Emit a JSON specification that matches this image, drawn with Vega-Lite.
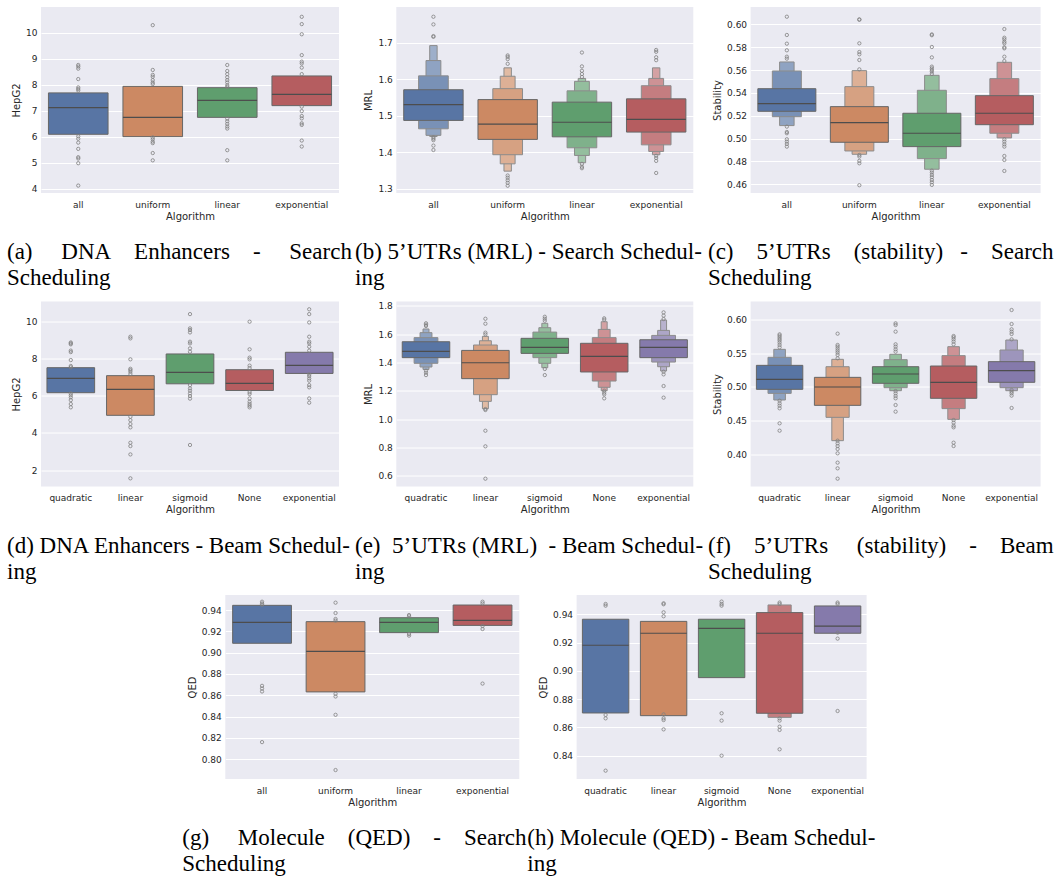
{
  "$schema": "https://vega.github.io/schema/vega-lite/v6.json",
  "padding": {"left": 7, "top": 7, "right": 5, "bottom": 5},
  "background": "#FFFFFF",
  "columns": 3,
  "bounds": "flush",
  "align": {"row": "each", "column": "each"},
  "spacing": {"row": 108.5, "column": 57.3},
  "datasets": {
    "a_box": [
      {"Algorithm": "all", "level": 0, "lo": 6.10, "hi": 7.69, "median": 7.12},
      {"Algorithm": "uniform", "level": 0, "lo": 6.01, "hi": 7.94, "median": 6.75},
      {"Algorithm": "linear", "level": 0, "lo": 6.75, "hi": 7.89, "median": 7.40},
      {"Algorithm": "exponential", "level": 0, "lo": 7.20, "hi": 8.34, "median": 7.63}
    ],
    "a_out": [
      {"Algorithm": "all", "value": 8.76}, {"Algorithm": "all", "value": 8.70}, {"Algorithm": "all", "value": 8.62}, {"Algorithm": "all", "value": 8.22}, {"Algorithm": "all", "value": 7.90}, {"Algorithm": "all", "value": 7.84}, {"Algorithm": "all", "value": 7.78}, {"Algorithm": "all", "value": 6.02}, {"Algorithm": "all", "value": 5.93}, {"Algorithm": "all", "value": 5.78}, {"Algorithm": "all", "value": 5.54}, {"Algorithm": "all", "value": 5.22}, {"Algorithm": "all", "value": 5.17}, {"Algorithm": "all", "value": 4.99}, {"Algorithm": "all", "value": 4.13},
      {"Algorithm": "uniform", "value": 10.29}, {"Algorithm": "uniform", "value": 8.57}, {"Algorithm": "uniform", "value": 8.38}, {"Algorithm": "uniform", "value": 8.31}, {"Algorithm": "uniform", "value": 8.18}, {"Algorithm": "uniform", "value": 8.09}, {"Algorithm": "uniform", "value": 8.03}, {"Algorithm": "uniform", "value": 5.98}, {"Algorithm": "uniform", "value": 5.91}, {"Algorithm": "uniform", "value": 5.82}, {"Algorithm": "uniform", "value": 5.76}, {"Algorithm": "uniform", "value": 5.38}, {"Algorithm": "uniform", "value": 5.10},
      {"Algorithm": "linear", "value": 8.76}, {"Algorithm": "linear", "value": 8.53}, {"Algorithm": "linear", "value": 8.41}, {"Algorithm": "linear", "value": 8.29}, {"Algorithm": "linear", "value": 8.18}, {"Algorithm": "linear", "value": 8.09}, {"Algorithm": "linear", "value": 7.98}, {"Algorithm": "linear", "value": 7.92}, {"Algorithm": "linear", "value": 6.70}, {"Algorithm": "linear", "value": 6.60}, {"Algorithm": "linear", "value": 6.50}, {"Algorithm": "linear", "value": 6.40}, {"Algorithm": "linear", "value": 6.32}, {"Algorithm": "linear", "value": 5.49}, {"Algorithm": "linear", "value": 5.10},
      {"Algorithm": "exponential", "value": 10.61}, {"Algorithm": "exponential", "value": 10.33}, {"Algorithm": "exponential", "value": 9.94}, {"Algorithm": "exponential", "value": 9.14}, {"Algorithm": "exponential", "value": 8.89}, {"Algorithm": "exponential", "value": 8.82}, {"Algorithm": "exponential", "value": 8.66}, {"Algorithm": "exponential", "value": 8.41}, {"Algorithm": "exponential", "value": 7.16}, {"Algorithm": "exponential", "value": 6.99}, {"Algorithm": "exponential", "value": 6.80}, {"Algorithm": "exponential", "value": 6.71}, {"Algorithm": "exponential", "value": 6.52}, {"Algorithm": "exponential", "value": 6.46}, {"Algorithm": "exponential", "value": 5.86}, {"Algorithm": "exponential", "value": 5.63}
    ],
    "b_box": [
      {"Algorithm": "all", "level": 0, "lo": 1.487, "hi": 1.571, "median": 1.530},
      {"Algorithm": "all", "level": 1, "lo": 1.464, "hi": 1.609},
      {"Algorithm": "all", "level": 2, "lo": 1.446, "hi": 1.651},
      {"Algorithm": "all", "level": 3, "lo": 1.443, "hi": 1.692},
      {"Algorithm": "uniform", "level": 0, "lo": 1.435, "hi": 1.544, "median": 1.477},
      {"Algorithm": "uniform", "level": 1, "lo": 1.393, "hi": 1.574},
      {"Algorithm": "uniform", "level": 2, "lo": 1.368, "hi": 1.608},
      {"Algorithm": "uniform", "level": 3, "lo": 1.348, "hi": 1.631},
      {"Algorithm": "linear", "level": 0, "lo": 1.442, "hi": 1.537, "median": 1.482},
      {"Algorithm": "linear", "level": 1, "lo": 1.412, "hi": 1.568},
      {"Algorithm": "linear", "level": 2, "lo": 1.391, "hi": 1.594},
      {"Algorithm": "linear", "level": 3, "lo": 1.371, "hi": 1.602},
      {"Algorithm": "exponential", "level": 0, "lo": 1.455, "hi": 1.546, "median": 1.490},
      {"Algorithm": "exponential", "level": 1, "lo": 1.420, "hi": 1.582},
      {"Algorithm": "exponential", "level": 2, "lo": 1.402, "hi": 1.602},
      {"Algorithm": "exponential", "level": 3, "lo": 1.393, "hi": 1.631}
    ],
    "b_out": [
      {"Algorithm": "all", "value": 1.771}, {"Algorithm": "all", "value": 1.750}, {"Algorithm": "all", "value": 1.718}, {"Algorithm": "all", "value": 1.716}, {"Algorithm": "all", "value": 1.441}, {"Algorithm": "all", "value": 1.437}, {"Algorithm": "all", "value": 1.433}, {"Algorithm": "all", "value": 1.418}, {"Algorithm": "all", "value": 1.406},
      {"Algorithm": "uniform", "value": 1.665}, {"Algorithm": "uniform", "value": 1.661}, {"Algorithm": "uniform", "value": 1.655}, {"Algorithm": "uniform", "value": 1.642}, {"Algorithm": "uniform", "value": 1.336}, {"Algorithm": "uniform", "value": 1.330}, {"Algorithm": "uniform", "value": 1.323}, {"Algorithm": "uniform", "value": 1.316}, {"Algorithm": "uniform", "value": 1.308},
      {"Algorithm": "linear", "value": 1.673}, {"Algorithm": "linear", "value": 1.635}, {"Algorithm": "linear", "value": 1.623}, {"Algorithm": "linear", "value": 1.614}, {"Algorithm": "linear", "value": 1.606}, {"Algorithm": "linear", "value": 1.368}, {"Algorithm": "linear", "value": 1.360}, {"Algorithm": "linear", "value": 1.356},
      {"Algorithm": "exponential", "value": 1.680}, {"Algorithm": "exponential", "value": 1.675}, {"Algorithm": "exponential", "value": 1.660}, {"Algorithm": "exponential", "value": 1.652}, {"Algorithm": "exponential", "value": 1.390}, {"Algorithm": "exponential", "value": 1.384}, {"Algorithm": "exponential", "value": 1.376}, {"Algorithm": "exponential", "value": 1.343}
    ],
    "c_box": [
      {"Algorithm": "all", "level": 0, "lo": 0.5239, "hi": 0.5437, "median": 0.5306},
      {"Algorithm": "all", "level": 1, "lo": 0.5192, "hi": 0.5592},
      {"Algorithm": "all", "level": 2, "lo": 0.5114, "hi": 0.5671},
      {"Algorithm": "uniform", "level": 0, "lo": 0.4968, "hi": 0.5280, "median": 0.5140},
      {"Algorithm": "uniform", "level": 1, "lo": 0.4892, "hi": 0.5455},
      {"Algorithm": "uniform", "level": 2, "lo": 0.4863, "hi": 0.5595},
      {"Algorithm": "linear", "level": 0, "lo": 0.4930, "hi": 0.5222, "median": 0.5047},
      {"Algorithm": "linear", "level": 1, "lo": 0.4825, "hi": 0.5423},
      {"Algorithm": "linear", "level": 2, "lo": 0.4732, "hi": 0.5554},
      {"Algorithm": "exponential", "level": 0, "lo": 0.5122, "hi": 0.5376, "median": 0.5222},
      {"Algorithm": "exponential", "level": 1, "lo": 0.5047, "hi": 0.5525},
      {"Algorithm": "exponential", "level": 2, "lo": 0.5006, "hi": 0.5668}
    ],
    "c_out": [
      {"Algorithm": "all", "value": 0.6067}, {"Algorithm": "all", "value": 0.5907}, {"Algorithm": "all", "value": 0.5831}, {"Algorithm": "all", "value": 0.5773}, {"Algorithm": "all", "value": 0.5717}, {"Algorithm": "all", "value": 0.5700}, {"Algorithm": "all", "value": 0.5105}, {"Algorithm": "all", "value": 0.5058}, {"Algorithm": "all", "value": 0.5047}, {"Algorithm": "all", "value": 0.4994}, {"Algorithm": "all", "value": 0.4974}, {"Algorithm": "all", "value": 0.4953}, {"Algorithm": "all", "value": 0.4930},
      {"Algorithm": "uniform", "value": 0.6044}, {"Algorithm": "uniform", "value": 0.6040}, {"Algorithm": "uniform", "value": 0.5834}, {"Algorithm": "uniform", "value": 0.5758}, {"Algorithm": "uniform", "value": 0.5738}, {"Algorithm": "uniform", "value": 0.5688}, {"Algorithm": "uniform", "value": 0.5606}, {"Algorithm": "uniform", "value": 0.4857}, {"Algorithm": "uniform", "value": 0.4843}, {"Algorithm": "uniform", "value": 0.4805}, {"Algorithm": "uniform", "value": 0.4784}, {"Algorithm": "uniform", "value": 0.4592},
      {"Algorithm": "linear", "value": 0.5912}, {"Algorithm": "linear", "value": 0.5905}, {"Algorithm": "linear", "value": 0.5802}, {"Algorithm": "linear", "value": 0.5711}, {"Algorithm": "linear", "value": 0.5630}, {"Algorithm": "linear", "value": 0.5615}, {"Algorithm": "linear", "value": 0.5600}, {"Algorithm": "linear", "value": 0.5586}, {"Algorithm": "linear", "value": 0.5566}, {"Algorithm": "linear", "value": 0.4720}, {"Algorithm": "linear", "value": 0.4703}, {"Algorithm": "linear", "value": 0.4682}, {"Algorithm": "linear", "value": 0.4662}, {"Algorithm": "linear", "value": 0.4638}, {"Algorithm": "linear", "value": 0.4618}, {"Algorithm": "linear", "value": 0.4595},
      {"Algorithm": "exponential", "value": 0.5959}, {"Algorithm": "exponential", "value": 0.5883}, {"Algorithm": "exponential", "value": 0.5869}, {"Algorithm": "exponential", "value": 0.5848}, {"Algorithm": "exponential", "value": 0.5834}, {"Algorithm": "exponential", "value": 0.5799}, {"Algorithm": "exponential", "value": 0.5790}, {"Algorithm": "exponential", "value": 0.5717}, {"Algorithm": "exponential", "value": 0.5679}, {"Algorithm": "exponential", "value": 0.4994}, {"Algorithm": "exponential", "value": 0.4974}, {"Algorithm": "exponential", "value": 0.4950}, {"Algorithm": "exponential", "value": 0.4930}, {"Algorithm": "exponential", "value": 0.4848}, {"Algorithm": "exponential", "value": 0.4813}, {"Algorithm": "exponential", "value": 0.4717}
    ],
    "d_box": [
      {"Algorithm": "quadratic", "level": 0, "lo": 6.17, "hi": 7.52, "median": 6.94},
      {"Algorithm": "linear", "level": 0, "lo": 4.95, "hi": 7.09, "median": 6.35},
      {"Algorithm": "sigmoid", "level": 0, "lo": 6.65, "hi": 8.26, "median": 7.27},
      {"Algorithm": "None", "level": 0, "lo": 6.29, "hi": 7.41, "median": 6.67},
      {"Algorithm": "exponential", "level": 0, "lo": 7.21, "hi": 8.35, "median": 7.64}
    ],
    "d_out": [
      {"Algorithm": "quadratic", "value": 8.88}, {"Algorithm": "quadratic", "value": 8.83}, {"Algorithm": "quadratic", "value": 8.78}, {"Algorithm": "quadratic", "value": 8.44}, {"Algorithm": "quadratic", "value": 8.36}, {"Algorithm": "quadratic", "value": 7.93}, {"Algorithm": "quadratic", "value": 7.61}, {"Algorithm": "quadratic", "value": 7.54}, {"Algorithm": "quadratic", "value": 6.13}, {"Algorithm": "quadratic", "value": 6.03}, {"Algorithm": "quadratic", "value": 5.92}, {"Algorithm": "quadratic", "value": 5.77}, {"Algorithm": "quadratic", "value": 5.56}, {"Algorithm": "quadratic", "value": 5.38},
      {"Algorithm": "linear", "value": 9.19}, {"Algorithm": "linear", "value": 9.10}, {"Algorithm": "linear", "value": 7.97}, {"Algorithm": "linear", "value": 7.46}, {"Algorithm": "linear", "value": 7.39}, {"Algorithm": "linear", "value": 7.30}, {"Algorithm": "linear", "value": 7.18}, {"Algorithm": "linear", "value": 4.87}, {"Algorithm": "linear", "value": 4.69}, {"Algorithm": "linear", "value": 4.48}, {"Algorithm": "linear", "value": 4.30}, {"Algorithm": "linear", "value": 3.47}, {"Algorithm": "linear", "value": 3.29}, {"Algorithm": "linear", "value": 2.84}, {"Algorithm": "linear", "value": 1.55},
      {"Algorithm": "sigmoid", "value": 10.41}, {"Algorithm": "sigmoid", "value": 9.64}, {"Algorithm": "sigmoid", "value": 9.55}, {"Algorithm": "sigmoid", "value": 9.42}, {"Algorithm": "sigmoid", "value": 8.92}, {"Algorithm": "sigmoid", "value": 8.83}, {"Algorithm": "sigmoid", "value": 8.56}, {"Algorithm": "sigmoid", "value": 8.38}, {"Algorithm": "sigmoid", "value": 6.58}, {"Algorithm": "sigmoid", "value": 6.40}, {"Algorithm": "sigmoid", "value": 6.28}, {"Algorithm": "sigmoid", "value": 6.13}, {"Algorithm": "sigmoid", "value": 5.99}, {"Algorithm": "sigmoid", "value": 5.85}, {"Algorithm": "sigmoid", "value": 3.35},
      {"Algorithm": "None", "value": 10.0}, {"Algorithm": "None", "value": 8.51}, {"Algorithm": "None", "value": 8.06}, {"Algorithm": "None", "value": 7.97}, {"Algorithm": "None", "value": 7.63}, {"Algorithm": "None", "value": 7.50}, {"Algorithm": "None", "value": 6.20}, {"Algorithm": "None", "value": 6.10}, {"Algorithm": "None", "value": 5.86}, {"Algorithm": "None", "value": 5.68}, {"Algorithm": "None", "value": 5.56}, {"Algorithm": "None", "value": 5.47}, {"Algorithm": "None", "value": 5.38},
      {"Algorithm": "exponential", "value": 10.67}, {"Algorithm": "exponential", "value": 10.41}, {"Algorithm": "exponential", "value": 9.96}, {"Algorithm": "exponential", "value": 9.19}, {"Algorithm": "exponential", "value": 8.92}, {"Algorithm": "exponential", "value": 8.83}, {"Algorithm": "exponential", "value": 8.65}, {"Algorithm": "exponential", "value": 8.44}, {"Algorithm": "exponential", "value": 7.16}, {"Algorithm": "exponential", "value": 7.07}, {"Algorithm": "exponential", "value": 6.94}, {"Algorithm": "exponential", "value": 6.82}, {"Algorithm": "exponential", "value": 6.58}, {"Algorithm": "exponential", "value": 6.46}, {"Algorithm": "exponential", "value": 5.86}, {"Algorithm": "exponential", "value": 5.63}
    ],
    "e_box": [
      {"Algorithm": "quadratic", "level": 0, "lo": 1.434, "hi": 1.546, "median": 1.478},
      {"Algorithm": "quadratic", "level": 1, "lo": 1.394, "hi": 1.575},
      {"Algorithm": "quadratic", "level": 2, "lo": 1.368, "hi": 1.610},
      {"Algorithm": "quadratic", "level": 3, "lo": 1.351, "hi": 1.636},
      {"Algorithm": "linear", "level": 0, "lo": 1.286, "hi": 1.485, "median": 1.398},
      {"Algorithm": "linear", "level": 1, "lo": 1.173, "hi": 1.523},
      {"Algorithm": "linear", "level": 2, "lo": 1.126, "hi": 1.553},
      {"Algorithm": "linear", "level": 3, "lo": 1.074, "hi": 1.584},
      {"Algorithm": "sigmoid", "level": 0, "lo": 1.464, "hi": 1.570, "median": 1.506},
      {"Algorithm": "sigmoid", "level": 1, "lo": 1.434, "hi": 1.614},
      {"Algorithm": "sigmoid", "level": 2, "lo": 1.394, "hi": 1.645},
      {"Algorithm": "sigmoid", "level": 3, "lo": 1.363, "hi": 1.676},
      {"Algorithm": "None", "level": 0, "lo": 1.333, "hi": 1.535, "median": 1.443},
      {"Algorithm": "None", "level": 1, "lo": 1.269, "hi": 1.575},
      {"Algorithm": "None", "level": 2, "lo": 1.225, "hi": 1.633},
      {"Algorithm": "None", "level": 3, "lo": 1.201, "hi": 1.687},
      {"Algorithm": "exponential", "level": 0, "lo": 1.434, "hi": 1.560, "median": 1.506},
      {"Algorithm": "exponential", "level": 1, "lo": 1.403, "hi": 1.591},
      {"Algorithm": "exponential", "level": 2, "lo": 1.370, "hi": 1.626},
      {"Algorithm": "exponential", "level": 3, "lo": 1.340, "hi": 1.699}
    ],
    "e_out": [
      {"Algorithm": "quadratic", "value": 1.676}, {"Algorithm": "quadratic", "value": 1.666}, {"Algorithm": "quadratic", "value": 1.657}, {"Algorithm": "quadratic", "value": 1.342}, {"Algorithm": "quadratic", "value": 1.328}, {"Algorithm": "quadratic", "value": 1.311},
      {"Algorithm": "linear", "value": 1.708}, {"Algorithm": "linear", "value": 1.673}, {"Algorithm": "linear", "value": 1.610}, {"Algorithm": "linear", "value": 1.598}, {"Algorithm": "linear", "value": 1.072}, {"Algorithm": "linear", "value": 1.065}, {"Algorithm": "linear", "value": 0.919}, {"Algorithm": "linear", "value": 0.809}, {"Algorithm": "linear", "value": 0.581},
      {"Algorithm": "sigmoid", "value": 1.722}, {"Algorithm": "sigmoid", "value": 1.708}, {"Algorithm": "sigmoid", "value": 1.694}, {"Algorithm": "sigmoid", "value": 1.354}, {"Algorithm": "sigmoid", "value": 1.311},
      {"Algorithm": "None", "value": 1.711}, {"Algorithm": "None", "value": 1.701}, {"Algorithm": "None", "value": 1.201}, {"Algorithm": "None", "value": 1.187}, {"Algorithm": "None", "value": 1.175}, {"Algorithm": "None", "value": 1.147},
      {"Algorithm": "exponential", "value": 1.753}, {"Algorithm": "exponential", "value": 1.730}, {"Algorithm": "exponential", "value": 1.706}, {"Algorithm": "exponential", "value": 1.335}, {"Algorithm": "exponential", "value": 1.316}, {"Algorithm": "exponential", "value": 1.234}, {"Algorithm": "exponential", "value": 1.152}
    ],
    "f_box": [
      {"Algorithm": "quadratic", "level": 0, "lo": 0.4965, "hi": 0.5323, "median": 0.5114},
      {"Algorithm": "quadratic", "level": 1, "lo": 0.4905, "hi": 0.5443},
      {"Algorithm": "quadratic", "level": 2, "lo": 0.4806, "hi": 0.5562},
      {"Algorithm": "linear", "level": 0, "lo": 0.4726, "hi": 0.5144, "median": 0.5000},
      {"Algorithm": "linear", "level": 1, "lo": 0.4547, "hi": 0.5303},
      {"Algorithm": "linear", "level": 2, "lo": 0.4199, "hi": 0.5413},
      {"Algorithm": "sigmoid", "level": 0, "lo": 0.5055, "hi": 0.5303, "median": 0.5194},
      {"Algorithm": "sigmoid", "level": 1, "lo": 0.4990, "hi": 0.5408},
      {"Algorithm": "sigmoid", "level": 2, "lo": 0.4945, "hi": 0.5488},
      {"Algorithm": "None", "level": 0, "lo": 0.4831, "hi": 0.5313, "median": 0.5070},
      {"Algorithm": "None", "level": 1, "lo": 0.4677, "hi": 0.5468},
      {"Algorithm": "None", "level": 2, "lo": 0.4517, "hi": 0.5602},
      {"Algorithm": "exponential", "level": 0, "lo": 0.5070, "hi": 0.5378, "median": 0.5244},
      {"Algorithm": "exponential", "level": 1, "lo": 0.4990, "hi": 0.5552},
      {"Algorithm": "exponential", "level": 2, "lo": 0.4945, "hi": 0.5701}
    ],
    "f_out": [
      {"Algorithm": "quadratic", "value": 0.5786}, {"Algorithm": "quadratic", "value": 0.5766}, {"Algorithm": "quadratic", "value": 0.5741}, {"Algorithm": "quadratic", "value": 0.5716}, {"Algorithm": "quadratic", "value": 0.5692}, {"Algorithm": "quadratic", "value": 0.5662}, {"Algorithm": "quadratic", "value": 0.5627}, {"Algorithm": "quadratic", "value": 0.5592}, {"Algorithm": "quadratic", "value": 0.4796}, {"Algorithm": "quadratic", "value": 0.4756}, {"Algorithm": "quadratic", "value": 0.4721}, {"Algorithm": "quadratic", "value": 0.4682}, {"Algorithm": "quadratic", "value": 0.4458}, {"Algorithm": "quadratic", "value": 0.4348},
      {"Algorithm": "linear", "value": 0.5796}, {"Algorithm": "linear", "value": 0.5627}, {"Algorithm": "linear", "value": 0.5602}, {"Algorithm": "linear", "value": 0.5572}, {"Algorithm": "linear", "value": 0.5542}, {"Algorithm": "linear", "value": 0.5512}, {"Algorithm": "linear", "value": 0.5478}, {"Algorithm": "linear", "value": 0.5428}, {"Algorithm": "linear", "value": 0.4199}, {"Algorithm": "linear", "value": 0.4159}, {"Algorithm": "linear", "value": 0.4119}, {"Algorithm": "linear", "value": 0.4075}, {"Algorithm": "linear", "value": 0.4010}, {"Algorithm": "linear", "value": 0.3871}, {"Algorithm": "linear", "value": 0.3786}, {"Algorithm": "linear", "value": 0.3632},
      {"Algorithm": "sigmoid", "value": 0.5950}, {"Algorithm": "sigmoid", "value": 0.5925}, {"Algorithm": "sigmoid", "value": 0.5826}, {"Algorithm": "sigmoid", "value": 0.5637}, {"Algorithm": "sigmoid", "value": 0.5602}, {"Algorithm": "sigmoid", "value": 0.5562}, {"Algorithm": "sigmoid", "value": 0.5527}, {"Algorithm": "sigmoid", "value": 0.4940}, {"Algorithm": "sigmoid", "value": 0.4905}, {"Algorithm": "sigmoid", "value": 0.4866}, {"Algorithm": "sigmoid", "value": 0.4831}, {"Algorithm": "sigmoid", "value": 0.4731}, {"Algorithm": "sigmoid", "value": 0.4632},
      {"Algorithm": "None", "value": 0.5761}, {"Algorithm": "None", "value": 0.5741}, {"Algorithm": "None", "value": 0.5711}, {"Algorithm": "None", "value": 0.5677}, {"Algorithm": "None", "value": 0.5637}, {"Algorithm": "None", "value": 0.4507}, {"Algorithm": "None", "value": 0.4468}, {"Algorithm": "None", "value": 0.4423}, {"Algorithm": "None", "value": 0.4398}, {"Algorithm": "None", "value": 0.4169}, {"Algorithm": "None", "value": 0.4119},
      {"Algorithm": "exponential", "value": 0.6149}, {"Algorithm": "exponential", "value": 0.5940}, {"Algorithm": "exponential", "value": 0.5861}, {"Algorithm": "exponential", "value": 0.5826}, {"Algorithm": "exponential", "value": 0.5791}, {"Algorithm": "exponential", "value": 0.5711}, {"Algorithm": "exponential", "value": 0.4955}, {"Algorithm": "exponential", "value": 0.4930}, {"Algorithm": "exponential", "value": 0.4905}, {"Algorithm": "exponential", "value": 0.4871}, {"Algorithm": "exponential", "value": 0.4687}
    ],
    "g_box": [
      {"Algorithm": "all", "level": 0, "lo": 0.9088, "hi": 0.9444, "median": 0.9285},
      {"Algorithm": "uniform", "level": 0, "lo": 0.8632, "hi": 0.9291, "median": 0.9013},
      {"Algorithm": "linear", "level": 0, "lo": 0.9188, "hi": 0.9328, "median": 0.9285},
      {"Algorithm": "exponential", "level": 0, "lo": 0.9256, "hi": 0.9447, "median": 0.9303}
    ],
    "g_out": [
      {"Algorithm": "all", "value": 0.9478}, {"Algorithm": "all", "value": 0.9462}, {"Algorithm": "all", "value": 0.9450}, {"Algorithm": "all", "value": 0.8689}, {"Algorithm": "all", "value": 0.8664}, {"Algorithm": "all", "value": 0.8636}, {"Algorithm": "all", "value": 0.8161},
      {"Algorithm": "uniform", "value": 0.9469}, {"Algorithm": "uniform", "value": 0.9372}, {"Algorithm": "uniform", "value": 0.9316}, {"Algorithm": "uniform", "value": 0.9300}, {"Algorithm": "uniform", "value": 0.8614}, {"Algorithm": "uniform", "value": 0.8589}, {"Algorithm": "uniform", "value": 0.8417}, {"Algorithm": "uniform", "value": 0.7899},
      {"Algorithm": "linear", "value": 0.9353}, {"Algorithm": "linear", "value": 0.9341}, {"Algorithm": "linear", "value": 0.9175}, {"Algorithm": "linear", "value": 0.9160},
      {"Algorithm": "exponential", "value": 0.9478}, {"Algorithm": "exponential", "value": 0.9462}, {"Algorithm": "exponential", "value": 0.9250}, {"Algorithm": "exponential", "value": 0.9222}, {"Algorithm": "exponential", "value": 0.8710}
    ],
    "h_box": [
      {"Algorithm": "quadratic", "level": 0, "lo": 0.8702, "hi": 0.9365, "median": 0.9181},
      {"Algorithm": "linear", "level": 0, "lo": 0.8683, "hi": 0.9350, "median": 0.9266},
      {"Algorithm": "sigmoid", "level": 0, "lo": 0.8952, "hi": 0.9365, "median": 0.9301},
      {"Algorithm": "None", "level": 0, "lo": 0.8700, "hi": 0.9412, "median": 0.9266},
      {"Algorithm": "None", "level": 1, "lo": 0.8671, "hi": 0.9466},
      {"Algorithm": "exponential", "level": 0, "lo": 0.9266, "hi": 0.9459, "median": 0.9317}
    ],
    "h_out": [
      {"Algorithm": "quadratic", "value": 0.9473}, {"Algorithm": "quadratic", "value": 0.9461}, {"Algorithm": "quadratic", "value": 0.8688}, {"Algorithm": "quadratic", "value": 0.8664}, {"Algorithm": "quadratic", "value": 0.8294},
      {"Algorithm": "linear", "value": 0.9478}, {"Algorithm": "linear", "value": 0.9471}, {"Algorithm": "linear", "value": 0.9414}, {"Algorithm": "linear", "value": 0.9386}, {"Algorithm": "linear", "value": 0.8692}, {"Algorithm": "linear", "value": 0.8664}, {"Algorithm": "linear", "value": 0.8652}, {"Algorithm": "linear", "value": 0.8586},
      {"Algorithm": "sigmoid", "value": 0.9490}, {"Algorithm": "sigmoid", "value": 0.9473}, {"Algorithm": "sigmoid", "value": 0.9461}, {"Algorithm": "sigmoid", "value": 0.8700}, {"Algorithm": "sigmoid", "value": 0.8648}, {"Algorithm": "sigmoid", "value": 0.8400},
      {"Algorithm": "None", "value": 0.9483}, {"Algorithm": "None", "value": 0.9473}, {"Algorithm": "None", "value": 0.8664}, {"Algorithm": "None", "value": 0.8648}, {"Algorithm": "None", "value": 0.8605}, {"Algorithm": "None", "value": 0.8582}, {"Algorithm": "None", "value": 0.8445},
      {"Algorithm": "exponential", "value": 0.9483}, {"Algorithm": "exponential", "value": 0.9473}, {"Algorithm": "exponential", "value": 0.9270}, {"Algorithm": "exponential", "value": 0.9228}, {"Algorithm": "exponential", "value": 0.8716}
    ]
  },
  "concat": [
    {
      "width": 298, "height": 186,
      "title": {"text": ["(a)\u00a0\u00a0\u00a0\u00a0\u00a0DNA\u00a0\u00a0\u00a0\u00a0Enhancers\u00a0\u00a0\u00a0\u00a0-\u00a0\u00a0\u00a0\u00a0\u00a0Search", "Scheduling"], "dx": -34},
      "encoding": {"x": {"field": "Algorithm", "type": "nominal", "title": "Algorithm", "scale": {"domain": ["all", "uniform", "linear", "exponential"], "paddingInner": 0, "paddingOuter": 0}}},
      "layer": [
        {"data": {"name": "a_box"}, "transform": [{"filter": "datum.level == 0"}],
         "mark": {"type": "bar", "width": {"band": 0.8}, "stroke": "#666666", "strokeWidth": 1},
         "encoding": {"y": {"field": "lo", "type": "quantitative", "title": "HepG2", "scale": {"domain": [3.846, 10.987], "nice": false, "zero": false}, "axis": {"values": [4, 5, 6, 7, 8, 9, 10], "format": "d"}}, "y2": {"field": "hi"},
           "fill": {"field": "Algorithm", "type": "nominal", "legend": null, "scale": {"domain": ["all", "uniform", "linear", "exponential"], "range": ["#5875A4", "#CC8963", "#5F9E6E", "#B55D60"]}}}},
        {"data": {"name": "a_box"}, "transform": [{"filter": "datum.level == 0"}],
         "mark": {"type": "bar", "width": {"band": 0.8}, "fillOpacity": 0, "stroke": "#4D4D4D", "strokeWidth": 1.2},
         "encoding": {"y": {"field": "median", "type": "quantitative", "title": "HepG2", "scale": {"domain": [3.846, 10.987], "nice": false, "zero": false}, "axis": {"values": [4, 5, 6, 7, 8, 9, 10], "format": "d"}}, "y2": {"field": "median"}}},
        {"data": {"name": "a_out"},
         "mark": {"type": "point", "shape": "circle", "filled": false, "size": 11, "color": "#808080", "strokeWidth": 0.8, "opacity": 1},
         "encoding": {"y": {"field": "value", "type": "quantitative", "title": "HepG2", "scale": {"domain": [3.846, 10.987], "nice": false, "zero": false}, "axis": {"values": [4, 5, 6, 7, 8, 9, 10], "format": "d"}}}}
      ],
      "resolve": {"scale": {"fill": "independent"}}
    },
    {
      "width": 297, "height": 186,
      "title": {"text": ["(b) 5’UTRs (MRL) - Search Schedul-", "ing"], "dx": -41.3},
      "encoding": {"x": {"field": "Algorithm", "type": "nominal", "title": "Algorithm", "scale": {"domain": ["all", "uniform", "linear", "exponential"], "paddingInner": 0, "paddingOuter": 0}}},
      "layer": [
        {"data": {"name": "b_box"}, "transform": [{"filter": "datum.level == 3"}],
         "mark": {"type": "bar", "width": {"band": 0.1}, "stroke": "#8C8C8C", "strokeWidth": 1},
         "encoding": {"y": {"field": "lo", "type": "quantitative", "title": "MRL", "scale": {"domain": [1.2881, 1.7977], "nice": false, "zero": false}, "axis": {"values": [1.3, 1.4, 1.5, 1.6, 1.7], "format": ".1f"}}, "y2": {"field": "hi"},
           "fill": {"field": "Algorithm", "type": "nominal", "legend": null, "scale": {"domain": ["all", "uniform", "linear", "exponential"], "range": ["#9EAFCA", "#E1BBA4", "#A2C7AB", "#D4A1A3"]}}}},
        {"data": {"name": "b_box"}, "transform": [{"filter": "datum.level == 2"}],
         "mark": {"type": "bar", "width": {"band": 0.2}, "stroke": "#8C8C8C", "strokeWidth": 1},
         "encoding": {"y": {"field": "lo", "type": "quantitative", "title": "MRL", "scale": {"domain": [1.2881, 1.7977], "nice": false, "zero": false}, "axis": {"values": [1.3, 1.4, 1.5, 1.6, 1.7], "format": ".1f"}}, "y2": {"field": "hi"},
           "fill": {"field": "Algorithm", "type": "nominal", "legend": null, "scale": {"domain": ["all", "uniform", "linear", "exponential"], "range": ["#8FA3C2", "#DDB096", "#94BE9E", "#CD9295"]}}}},
        {"data": {"name": "b_box"}, "transform": [{"filter": "datum.level == 1"}],
         "mark": {"type": "bar", "width": {"band": 0.4}, "stroke": "#8C8C8C", "strokeWidth": 1},
         "encoding": {"y": {"field": "lo", "type": "quantitative", "title": "MRL", "scale": {"domain": [1.2881, 1.7977], "nice": false, "zero": false}, "axis": {"values": [1.3, 1.4, 1.5, 1.6, 1.7], "format": ".1f"}}, "y2": {"field": "hi"},
           "fill": {"field": "Algorithm", "type": "nominal", "legend": null, "scale": {"domain": ["all", "uniform", "linear", "exponential"], "range": ["#7991B6", "#D6A182", "#7FB18B", "#C47D80"]}}}},
        {"data": {"name": "b_box"}, "transform": [{"filter": "datum.level == 0"}],
         "mark": {"type": "bar", "width": {"band": 0.8}, "stroke": "#666666", "strokeWidth": 1},
         "encoding": {"y": {"field": "lo", "type": "quantitative", "title": "MRL", "scale": {"domain": [1.2881, 1.7977], "nice": false, "zero": false}, "axis": {"values": [1.3, 1.4, 1.5, 1.6, 1.7], "format": ".1f"}}, "y2": {"field": "hi"},
           "fill": {"field": "Algorithm", "type": "nominal", "legend": null, "scale": {"domain": ["all", "uniform", "linear", "exponential"], "range": ["#5875A4", "#CC8963", "#5F9E6E", "#B55D60"]}}}},
        {"data": {"name": "b_box"}, "transform": [{"filter": "datum.level == 0"}],
         "mark": {"type": "bar", "width": {"band": 0.8}, "fillOpacity": 0, "stroke": "#4D4D4D", "strokeWidth": 1.2},
         "encoding": {"y": {"field": "median", "type": "quantitative", "title": "MRL", "scale": {"domain": [1.2881, 1.7977], "nice": false, "zero": false}, "axis": {"values": [1.3, 1.4, 1.5, 1.6, 1.7], "format": ".1f"}}, "y2": {"field": "median"}}},
        {"data": {"name": "b_out"},
         "mark": {"type": "point", "shape": "circle", "filled": false, "size": 11, "color": "#808080", "strokeWidth": 0.8, "opacity": 1},
         "encoding": {"y": {"field": "value", "type": "quantitative", "title": "MRL", "scale": {"domain": [1.2881, 1.7977], "nice": false, "zero": false}, "axis": {"values": [1.3, 1.4, 1.5, 1.6, 1.7], "format": ".1f"}}}}
      ],
      "resolve": {"scale": {"fill": "independent"}}
    },
    {
      "width": 290, "height": 186,
      "title": {"text": ["(c)\u00a0\u00a0\u00a0\u00a05’UTRs\u00a0\u00a0\u00a0\u00a0(stability)\u00a0\u00a0\u00a0-\u00a0\u00a0\u00a0\u00a0Search", "Scheduling"], "dx": -42.6},
      "encoding": {"x": {"field": "Algorithm", "type": "nominal", "title": "Algorithm", "scale": {"domain": ["all", "uniform", "linear", "exponential"], "paddingInner": 0, "paddingOuter": 0}}},
      "layer": [
        {"data": {"name": "c_box"}, "transform": [{"filter": "datum.level == 2"}],
         "mark": {"type": "bar", "width": {"band": 0.2}, "stroke": "#8C8C8C", "strokeWidth": 1},
         "encoding": {"y": {"field": "lo", "type": "quantitative", "title": "Stability", "scale": {"domain": [0.4524, 0.6152], "nice": false, "zero": false}, "axis": {"values": [0.46, 0.48, 0.50, 0.52, 0.54, 0.56, 0.58, 0.60], "format": ".2f"}}, "y2": {"field": "hi"},
           "fill": {"field": "Algorithm", "type": "nominal", "legend": null, "scale": {"domain": ["all", "uniform", "linear", "exponential"], "range": ["#8FA3C2", "#DDB096", "#94BE9E", "#CD9295"]}}}},
        {"data": {"name": "c_box"}, "transform": [{"filter": "datum.level == 1"}],
         "mark": {"type": "bar", "width": {"band": 0.4}, "stroke": "#8C8C8C", "strokeWidth": 1},
         "encoding": {"y": {"field": "lo", "type": "quantitative", "title": "Stability", "scale": {"domain": [0.4524, 0.6152], "nice": false, "zero": false}, "axis": {"values": [0.46, 0.48, 0.50, 0.52, 0.54, 0.56, 0.58, 0.60], "format": ".2f"}}, "y2": {"field": "hi"},
           "fill": {"field": "Algorithm", "type": "nominal", "legend": null, "scale": {"domain": ["all", "uniform", "linear", "exponential"], "range": ["#7991B6", "#D6A182", "#7FB18B", "#C47D80"]}}}},
        {"data": {"name": "c_box"}, "transform": [{"filter": "datum.level == 0"}],
         "mark": {"type": "bar", "width": {"band": 0.8}, "stroke": "#666666", "strokeWidth": 1},
         "encoding": {"y": {"field": "lo", "type": "quantitative", "title": "Stability", "scale": {"domain": [0.4524, 0.6152], "nice": false, "zero": false}, "axis": {"values": [0.46, 0.48, 0.50, 0.52, 0.54, 0.56, 0.58, 0.60], "format": ".2f"}}, "y2": {"field": "hi"},
           "fill": {"field": "Algorithm", "type": "nominal", "legend": null, "scale": {"domain": ["all", "uniform", "linear", "exponential"], "range": ["#5875A4", "#CC8963", "#5F9E6E", "#B55D60"]}}}},
        {"data": {"name": "c_box"}, "transform": [{"filter": "datum.level == 0"}],
         "mark": {"type": "bar", "width": {"band": 0.8}, "fillOpacity": 0, "stroke": "#4D4D4D", "strokeWidth": 1.2},
         "encoding": {"y": {"field": "median", "type": "quantitative", "title": "Stability", "scale": {"domain": [0.4524, 0.6152], "nice": false, "zero": false}, "axis": {"values": [0.46, 0.48, 0.50, 0.52, 0.54, 0.56, 0.58, 0.60], "format": ".2f"}}, "y2": {"field": "median"}}},
        {"data": {"name": "c_out"},
         "mark": {"type": "point", "shape": "circle", "filled": false, "size": 11, "color": "#808080", "strokeWidth": 0.8, "opacity": 1},
         "encoding": {"y": {"field": "value", "type": "quantitative", "title": "Stability", "scale": {"domain": [0.4524, 0.6152], "nice": false, "zero": false}, "axis": {"values": [0.46, 0.48, 0.50, 0.52, 0.54, 0.56, 0.58, 0.60], "format": ".2f"}}}}
      ],
      "resolve": {"scale": {"fill": "independent"}}
    },
    {
      "width": 298, "height": 185,
      "title": {"text": ["(d) DNA Enhancers - Beam Schedul-", "ing"], "dx": -34},
      "encoding": {"x": {"field": "Algorithm", "type": "nominal", "title": "Algorithm", "scale": {"domain": ["quadratic", "linear", "sigmoid", "None", "exponential"], "paddingInner": 0, "paddingOuter": 0}}},
      "layer": [
        {"data": {"name": "d_box"}, "transform": [{"filter": "datum.level == 0"}],
         "mark": {"type": "bar", "width": {"band": 0.8}, "stroke": "#666666", "strokeWidth": 1},
         "encoding": {"y": {"field": "lo", "type": "quantitative", "title": "HepG2", "scale": {"domain": [1.11, 11.09], "nice": false, "zero": false}, "axis": {"values": [2, 4, 6, 8, 10], "format": "d"}}, "y2": {"field": "hi"},
           "fill": {"field": "Algorithm", "type": "nominal", "legend": null, "scale": {"domain": ["quadratic", "linear", "sigmoid", "None", "exponential"], "range": ["#5875A4", "#CC8963", "#5F9E6E", "#B55D60", "#857AAB"]}}}},
        {"data": {"name": "d_box"}, "transform": [{"filter": "datum.level == 0"}],
         "mark": {"type": "bar", "width": {"band": 0.8}, "fillOpacity": 0, "stroke": "#4D4D4D", "strokeWidth": 1.2},
         "encoding": {"y": {"field": "median", "type": "quantitative", "title": "HepG2", "scale": {"domain": [1.11, 11.09], "nice": false, "zero": false}, "axis": {"values": [2, 4, 6, 8, 10], "format": "d"}}, "y2": {"field": "median"}}},
        {"data": {"name": "d_out"},
         "mark": {"type": "point", "shape": "circle", "filled": false, "size": 11, "color": "#808080", "strokeWidth": 0.8, "opacity": 1},
         "encoding": {"y": {"field": "value", "type": "quantitative", "title": "HepG2", "scale": {"domain": [1.11, 11.09], "nice": false, "zero": false}, "axis": {"values": [2, 4, 6, 8, 10], "format": "d"}}}}
      ],
      "resolve": {"scale": {"fill": "independent"}}
    },
    {
      "width": 297, "height": 185,
      "title": {"text": ["(e)\u00a0\u00a05’UTRs (MRL)\u00a0\u00a0- Beam Schedul-", "ing"], "dx": -41.3},
      "encoding": {"x": {"field": "Algorithm", "type": "nominal", "title": "Algorithm", "scale": {"domain": ["quadratic", "linear", "sigmoid", "None", "exponential"], "paddingInner": 0, "paddingOuter": 0}}},
      "layer": [
        {"data": {"name": "e_box"}, "transform": [{"filter": "datum.level == 3"}],
         "mark": {"type": "bar", "width": {"band": 0.1}, "stroke": "#8C8C8C", "strokeWidth": 1},
         "encoding": {"y": {"field": "lo", "type": "quantitative", "title": "MRL", "scale": {"domain": [0.526, 1.8296], "nice": false, "zero": false}, "axis": {"values": [0.6, 0.8, 1.0, 1.2, 1.4, 1.6, 1.8], "format": ".1f"}}, "y2": {"field": "hi"},
           "fill": {"field": "Algorithm", "type": "nominal", "legend": null, "scale": {"domain": ["quadratic", "linear", "sigmoid", "None", "exponential"], "range": ["#9EAFCA", "#E1BBA4", "#A2C7AB", "#D4A1A3", "#B8B2CE"]}}}},
        {"data": {"name": "e_box"}, "transform": [{"filter": "datum.level == 2"}],
         "mark": {"type": "bar", "width": {"band": 0.2}, "stroke": "#8C8C8C", "strokeWidth": 1},
         "encoding": {"y": {"field": "lo", "type": "quantitative", "title": "MRL", "scale": {"domain": [0.526, 1.8296], "nice": false, "zero": false}, "axis": {"values": [0.6, 0.8, 1.0, 1.2, 1.4, 1.6, 1.8], "format": ".1f"}}, "y2": {"field": "hi"},
           "fill": {"field": "Algorithm", "type": "nominal", "legend": null, "scale": {"domain": ["quadratic", "linear", "sigmoid", "None", "exponential"], "range": ["#8FA3C2", "#DDB096", "#94BE9E", "#CD9295", "#ADA6C7"]}}}},
        {"data": {"name": "e_box"}, "transform": [{"filter": "datum.level == 1"}],
         "mark": {"type": "bar", "width": {"band": 0.4}, "stroke": "#8C8C8C", "strokeWidth": 1},
         "encoding": {"y": {"field": "lo", "type": "quantitative", "title": "MRL", "scale": {"domain": [0.526, 1.8296], "nice": false, "zero": false}, "axis": {"values": [0.6, 0.8, 1.0, 1.2, 1.4, 1.6, 1.8], "format": ".1f"}}, "y2": {"field": "hi"},
           "fill": {"field": "Algorithm", "type": "nominal", "legend": null, "scale": {"domain": ["quadratic", "linear", "sigmoid", "None", "exponential"], "range": ["#7991B6", "#D6A182", "#7FB18B", "#C47D80", "#9D95BC"]}}}},
        {"data": {"name": "e_box"}, "transform": [{"filter": "datum.level == 0"}],
         "mark": {"type": "bar", "width": {"band": 0.8}, "stroke": "#666666", "strokeWidth": 1},
         "encoding": {"y": {"field": "lo", "type": "quantitative", "title": "MRL", "scale": {"domain": [0.526, 1.8296], "nice": false, "zero": false}, "axis": {"values": [0.6, 0.8, 1.0, 1.2, 1.4, 1.6, 1.8], "format": ".1f"}}, "y2": {"field": "hi"},
           "fill": {"field": "Algorithm", "type": "nominal", "legend": null, "scale": {"domain": ["quadratic", "linear", "sigmoid", "None", "exponential"], "range": ["#5875A4", "#CC8963", "#5F9E6E", "#B55D60", "#857AAB"]}}}},
        {"data": {"name": "e_box"}, "transform": [{"filter": "datum.level == 0"}],
         "mark": {"type": "bar", "width": {"band": 0.8}, "fillOpacity": 0, "stroke": "#4D4D4D", "strokeWidth": 1.2},
         "encoding": {"y": {"field": "median", "type": "quantitative", "title": "MRL", "scale": {"domain": [0.526, 1.8296], "nice": false, "zero": false}, "axis": {"values": [0.6, 0.8, 1.0, 1.2, 1.4, 1.6, 1.8], "format": ".1f"}}, "y2": {"field": "median"}}},
        {"data": {"name": "e_out"},
         "mark": {"type": "point", "shape": "circle", "filled": false, "size": 11, "color": "#808080", "strokeWidth": 0.8, "opacity": 1},
         "encoding": {"y": {"field": "value", "type": "quantitative", "title": "MRL", "scale": {"domain": [0.526, 1.8296], "nice": false, "zero": false}, "axis": {"values": [0.6, 0.8, 1.0, 1.2, 1.4, 1.6, 1.8], "format": ".1f"}}}}
      ],
      "resolve": {"scale": {"fill": "independent"}}
    },
    {
      "width": 290, "height": 185,
      "title": {"text": ["(f)\u00a0\u00a0\u00a0\u00a05’UTRs\u00a0\u00a0\u00a0\u00a0\u00a0(stability)\u00a0\u00a0\u00a0\u00a0-\u00a0\u00a0\u00a0\u00a0Beam", "Scheduling"], "dx": -42.6},
      "encoding": {"x": {"field": "Algorithm", "type": "nominal", "title": "Algorithm", "scale": {"domain": ["quadratic", "linear", "sigmoid", "None", "exponential"], "paddingInner": 0, "paddingOuter": 0}}},
      "layer": [
        {"data": {"name": "f_box"}, "transform": [{"filter": "datum.level == 2"}],
         "mark": {"type": "bar", "width": {"band": 0.2}, "stroke": "#8C8C8C", "strokeWidth": 1},
         "encoding": {"y": {"field": "lo", "type": "quantitative", "title": "Stability", "scale": {"domain": [0.3515, 0.6276], "nice": false, "zero": false}, "axis": {"values": [0.40, 0.45, 0.50, 0.55, 0.60], "format": ".2f"}}, "y2": {"field": "hi"},
           "fill": {"field": "Algorithm", "type": "nominal", "legend": null, "scale": {"domain": ["quadratic", "linear", "sigmoid", "None", "exponential"], "range": ["#8FA3C2", "#DDB096", "#94BE9E", "#CD9295", "#ADA6C7"]}}}},
        {"data": {"name": "f_box"}, "transform": [{"filter": "datum.level == 1"}],
         "mark": {"type": "bar", "width": {"band": 0.4}, "stroke": "#8C8C8C", "strokeWidth": 1},
         "encoding": {"y": {"field": "lo", "type": "quantitative", "title": "Stability", "scale": {"domain": [0.3515, 0.6276], "nice": false, "zero": false}, "axis": {"values": [0.40, 0.45, 0.50, 0.55, 0.60], "format": ".2f"}}, "y2": {"field": "hi"},
           "fill": {"field": "Algorithm", "type": "nominal", "legend": null, "scale": {"domain": ["quadratic", "linear", "sigmoid", "None", "exponential"], "range": ["#7991B6", "#D6A182", "#7FB18B", "#C47D80", "#9D95BC"]}}}},
        {"data": {"name": "f_box"}, "transform": [{"filter": "datum.level == 0"}],
         "mark": {"type": "bar", "width": {"band": 0.8}, "stroke": "#666666", "strokeWidth": 1},
         "encoding": {"y": {"field": "lo", "type": "quantitative", "title": "Stability", "scale": {"domain": [0.3515, 0.6276], "nice": false, "zero": false}, "axis": {"values": [0.40, 0.45, 0.50, 0.55, 0.60], "format": ".2f"}}, "y2": {"field": "hi"},
           "fill": {"field": "Algorithm", "type": "nominal", "legend": null, "scale": {"domain": ["quadratic", "linear", "sigmoid", "None", "exponential"], "range": ["#5875A4", "#CC8963", "#5F9E6E", "#B55D60", "#857AAB"]}}}},
        {"data": {"name": "f_box"}, "transform": [{"filter": "datum.level == 0"}],
         "mark": {"type": "bar", "width": {"band": 0.8}, "fillOpacity": 0, "stroke": "#4D4D4D", "strokeWidth": 1.2},
         "encoding": {"y": {"field": "median", "type": "quantitative", "title": "Stability", "scale": {"domain": [0.3515, 0.6276], "nice": false, "zero": false}, "axis": {"values": [0.40, 0.45, 0.50, 0.55, 0.60], "format": ".2f"}}, "y2": {"field": "median"}}},
        {"data": {"name": "f_out"},
         "mark": {"type": "point", "shape": "circle", "filled": false, "size": 11, "color": "#808080", "strokeWidth": 0.8, "opacity": 1},
         "encoding": {"y": {"field": "value", "type": "quantitative", "title": "Stability", "scale": {"domain": [0.3515, 0.6276], "nice": false, "zero": false}, "axis": {"values": [0.40, 0.45, 0.50, 0.55, 0.60], "format": ".2f"}}}}
      ],
      "resolve": {"scale": {"fill": "independent"}}
    },
    {
      "hconcat": [
        {
          "width": 126.7, "height": 10,
          "view": {"fill": null, "stroke": null},
          "data": {"values": [{}]},
          "mark": {"type": "point", "opacity": 0},
          "encoding": {}
        },
        {
          "width": 294, "height": 184,
          "title": {"text": ["(g)\u00a0\u00a0\u00a0\u00a0\u00a0Molecule\u00a0\u00a0\u00a0\u00a0(QED)\u00a0\u00a0\u00a0\u00a0-\u00a0\u00a0\u00a0\u00a0Search", "Scheduling"], "dx": -43},
          "encoding": {"x": {"field": "Algorithm", "type": "nominal", "title": "Algorithm", "scale": {"domain": ["all", "uniform", "linear", "exponential"], "paddingInner": 0, "paddingOuter": 0}}},
          "layer": [
            {"data": {"name": "g_box"}, "transform": [{"filter": "datum.level == 0"}],
             "mark": {"type": "bar", "width": {"band": 0.8}, "stroke": "#666666", "strokeWidth": 1},
             "encoding": {"y": {"field": "lo", "type": "quantitative", "title": "QED", "scale": {"domain": [0.7815, 0.9541], "nice": false, "zero": false}, "axis": {"values": [0.80, 0.82, 0.84, 0.86, 0.88, 0.90, 0.92, 0.94], "format": ".2f"}}, "y2": {"field": "hi"},
               "fill": {"field": "Algorithm", "type": "nominal", "legend": null, "scale": {"domain": ["all", "uniform", "linear", "exponential"], "range": ["#5875A4", "#CC8963", "#5F9E6E", "#B55D60"]}}}},
            {"data": {"name": "g_box"}, "transform": [{"filter": "datum.level == 0"}],
             "mark": {"type": "bar", "width": {"band": 0.8}, "fillOpacity": 0, "stroke": "#4D4D4D", "strokeWidth": 1.2},
             "encoding": {"y": {"field": "median", "type": "quantitative", "title": "QED", "scale": {"domain": [0.7815, 0.9541], "nice": false, "zero": false}, "axis": {"values": [0.80, 0.82, 0.84, 0.86, 0.88, 0.90, 0.92, 0.94], "format": ".2f"}}, "y2": {"field": "median"}}},
            {"data": {"name": "g_out"},
             "mark": {"type": "point", "shape": "circle", "filled": false, "size": 11, "color": "#808080", "strokeWidth": 0.8, "opacity": 1},
             "encoding": {"y": {"field": "value", "type": "quantitative", "title": "QED", "scale": {"domain": [0.7815, 0.9541], "nice": false, "zero": false}, "axis": {"values": [0.80, 0.82, 0.84, 0.86, 0.88, 0.90, 0.92, 0.94], "format": ".2f"}}}}
          ],
          "resolve": {"scale": {"fill": "independent"}}
        },
        {
          "width": 290, "height": 184,
          "title": {"text": ["(h) Molecule (QED) - Beam Schedul-", "ing"], "dx": -49.3},
          "encoding": {"x": {"field": "Algorithm", "type": "nominal", "title": "Algorithm", "scale": {"domain": ["quadratic", "linear", "sigmoid", "None", "exponential"], "paddingInner": 0, "paddingOuter": 0}}},
          "layer": [
            {"data": {"name": "h_box"}, "transform": [{"filter": "datum.level == 1"}],
             "mark": {"type": "bar", "width": {"band": 0.4}, "stroke": "#8C8C8C", "strokeWidth": 1},
             "encoding": {"y": {"field": "lo", "type": "quantitative", "title": "QED", "scale": {"domain": [0.8235, 0.95365], "nice": false, "zero": false}, "axis": {"values": [0.84, 0.86, 0.88, 0.90, 0.92, 0.94], "format": ".2f"}}, "y2": {"field": "hi"},
               "fill": {"field": "Algorithm", "type": "nominal", "legend": null, "scale": {"domain": ["quadratic", "linear", "sigmoid", "None", "exponential"], "range": ["#7991B6", "#D6A182", "#7FB18B", "#C47D80", "#9D95BC"]}}}},
            {"data": {"name": "h_box"}, "transform": [{"filter": "datum.level == 0"}],
             "mark": {"type": "bar", "width": {"band": 0.8}, "stroke": "#666666", "strokeWidth": 1},
             "encoding": {"y": {"field": "lo", "type": "quantitative", "title": "QED", "scale": {"domain": [0.8235, 0.95365], "nice": false, "zero": false}, "axis": {"values": [0.84, 0.86, 0.88, 0.90, 0.92, 0.94], "format": ".2f"}}, "y2": {"field": "hi"},
               "fill": {"field": "Algorithm", "type": "nominal", "legend": null, "scale": {"domain": ["quadratic", "linear", "sigmoid", "None", "exponential"], "range": ["#5875A4", "#CC8963", "#5F9E6E", "#B55D60", "#857AAB"]}}}},
            {"data": {"name": "h_box"}, "transform": [{"filter": "datum.level == 0"}],
             "mark": {"type": "bar", "width": {"band": 0.8}, "fillOpacity": 0, "stroke": "#4D4D4D", "strokeWidth": 1.2},
             "encoding": {"y": {"field": "median", "type": "quantitative", "title": "QED", "scale": {"domain": [0.8235, 0.95365], "nice": false, "zero": false}, "axis": {"values": [0.84, 0.86, 0.88, 0.90, 0.92, 0.94], "format": ".2f"}}, "y2": {"field": "median"}}},
            {"data": {"name": "h_out"},
             "mark": {"type": "point", "shape": "circle", "filled": false, "size": 11, "color": "#808080", "strokeWidth": 0.8, "opacity": 1},
             "encoding": {"y": {"field": "value", "type": "quantitative", "title": "QED", "scale": {"domain": [0.8235, 0.95365], "nice": false, "zero": false}, "axis": {"values": [0.84, 0.86, 0.88, 0.90, 0.92, 0.94], "format": ".2f"}}}}
          ],
          "resolve": {"scale": {"fill": "independent"}}
        }
      ],
      "spacing": 57.3,
      "bounds": "flush"
    }
  ],
  "config": {
    "view": {"fill": "#EAEAF2", "stroke": null},
    "axis": {"domain": false, "ticks": false, "tickSize": 0, "labelFont": "DejaVu Sans", "labelFontSize": 9, "labelColor": "#262626", "titleFont": "DejaVu Sans", "titleFontSize": 10, "titleFontWeight": "normal", "titleColor": "#262626", "gridColor": "#FFFFFF", "gridWidth": 1, "gridOpacity": 1, "labelOverlap": false},
    "axisX": {"grid": false, "labelAngle": 0, "labelPadding": 7, "titlePadding": 2},
    "axisY": {"grid": true, "labelPadding": 4, "titlePadding": 4},
    "title": {"font": "Liberation Serif", "fontSize": 23, "fontWeight": "normal", "color": "#000000", "orient": "bottom", "anchor": "start", "frame": "group", "baseline": "alphabetic", "lineHeight": 26, "offset": 20}
  }
}
